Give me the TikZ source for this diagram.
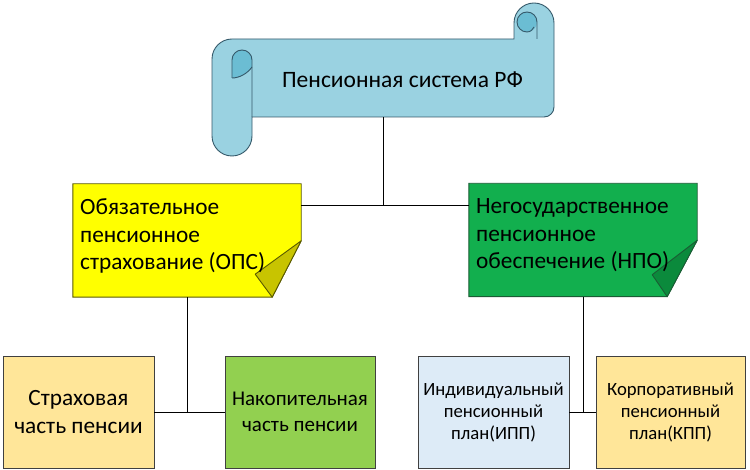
\documentclass[tikz,border=0pt]{standalone}
\usepackage{fontspec}
\setmainfont{Carlito}
\usetikzlibrary{calc}
\definecolor{scrollc}{HTML}{9AD2E1}
\definecolor{scrolld}{HTML}{6BBDD3}
\definecolor{scrollb}{HTML}{35596A}
\definecolor{opsc}{HTML}{FFFF00}
\definecolor{opsd}{HTML}{C8C400}
\definecolor{opsb}{HTML}{595900}
\definecolor{npoc}{HTML}{12AF4E}
\definecolor{npod}{HTML}{0B8A3C}
\definecolor{npob}{HTML}{1A5C34}
\definecolor{strahc}{HTML}{FFE699}
\definecolor{nakc}{HTML}{92D050}
\definecolor{ippc}{HTML}{DDEBF7}
\definecolor{boxb}{HTML}{404040}
\tikzset{
  leafbox/.style={draw=boxb, line width=0.9pt, minimum width=151pt, minimum height=112pt, inner sep=0pt, align=center},
  conn/.style={draw=black, line width=0.8pt},
  bigtxt/.style={font=\fontsize{23.3}{28.5}\selectfont},
  midtxt/.style={font=\fontsize{21}{26}\selectfont},
  smtxt/.style={font=\fontsize{18.7}{22}\selectfont},
  notetxt/.style={anchor=north west, inner sep=0pt, align=left, font=\fontsize{23.3}{27.5}\selectfont},
  frame/.style={minimum width=228pt, minimum height=113pt, inner sep=0pt}
}
\begin{document}
\begin{tikzpicture}[x=1pt,y=-1pt]
\useasboundingbox (0,0) rectangle (750,470);

% ---------- scroll ----------
\fill[scrollc, draw=scrollb, line width=0.9pt]
  (514,39) -- (514,23) arc[start angle=180,end angle=360,radius=20]
  -- (554,107) arc[start angle=0,end angle=90,radius=10]
  -- (252,117) -- (252,136) arc[start angle=0,end angle=180,radius=20]
  -- (212,59) arc[start angle=180,end angle=270,radius=20] -- cycle;
% left curl
\fill[scrolld] (232,78) -- (232,60) arc[start angle=180,end angle=360,radius=10]
  -- (252,67) .. controls (247,74) and (239,78) .. (232,78) -- cycle;
\draw[scrollb, line width=0.9pt] (232,78) -- (232,60) arc[start angle=180,end angle=360,radius=10] -- (252,117);
\draw[scrollb, line width=0.9pt] (232,78) .. controls (239,78) and (247,74) .. (252,67);
% right curl
\fill[scrolld] (527,22) circle[radius=10];
\draw[scrollb, line width=0.9pt] (537,39) -- (537,22) arc[start angle=0,end angle=-270,radius=10]
  .. controls (531,32) and (533,29) .. (534,27);

\node[inner sep=0pt, font=\fontsize{23.5}{28}\selectfont] (title) at (402.5,80) {Пенсионная система РФ};
\coordinate (sb) at (383,117);
\coordinate (j1) at (383,205);

% ---------- OPS / NPO ----------
\node[frame] (ops) at (187,240.5) {};
\node[frame] (npo) at (583,240) {};

\fill[opsc, draw=opsb, line width=0.9pt] (ops.north west) -- (ops.north east) -- ($(ops.north east)+(0,57)$)
  -- ($(ops.south east)+(-29,0)$) -- (ops.south west) -- cycle;
\fill[opsd, draw=opsb, line width=0.9pt, line join=round] ($(ops.north east)+(0,57)$) -- ($(ops.south east)+(-29,0)$)
  -- ($(ops.south east)+(-46,-23)$) -- cycle;

\fill[npoc, draw=npob, line width=0.9pt] (npo.north west) -- (npo.north east) -- ($(npo.north east)+(0,57)$)
  -- ($(npo.south east)+(-30,0)$) -- (npo.south west) -- cycle;
\fill[npod, draw=npob, line width=0.9pt, line join=round] ($(npo.north east)+(0,57)$) -- ($(npo.south east)+(-30,0)$)
  -- ($(npo.south east)+(-45,-22)$) -- cycle;

\node[notetxt] (opst) at (80,198.5) {Обязательное\\пенсионное\\страхование (ОПС)};
\node[notetxt] (npot) at (476,198.5) {Негосударственное\\пенсионное\\обеспечение (НПО)};

% ---------- bottom boxes ----------
\node[leafbox, fill=strahc, bigtxt] (strah) at (78.5,412) {Страховая\\часть пенсии};
\node[leafbox, fill=nakc, midtxt, minimum width=150pt] (nakop) at (300,412) {Накопительная\\часть пенсии};
\node[leafbox, fill=ippc, smtxt] (ipp) at (493.5,412.5) {Индивидуальный\\пенсионный\\план(ИПП)};
\node[leafbox, fill=strahc, smtxt, minimum width=149pt] (kpp) at (670.5,412.5) {Корпоративный\\пенсионный\\план(КПП)};

\coordinate (j2) at (187,412);
\coordinate (j3) at (583,412);

% ---------- connectors ----------
\draw[conn] (sb) -- (j1);
\draw[conn] (ops.east |- j1) -- (npo.west |- j1);
\draw[conn] (j2 |- ops.south) -- (j2);
\draw[conn] (strah.east |- j2) -- (nakop.west |- j2);
\draw[conn] (j3 |- npo.south) -- (j3);
\draw[conn] (ipp.east |- j3) -- (kpp.west |- j3);
\end{tikzpicture}
\end{document}
